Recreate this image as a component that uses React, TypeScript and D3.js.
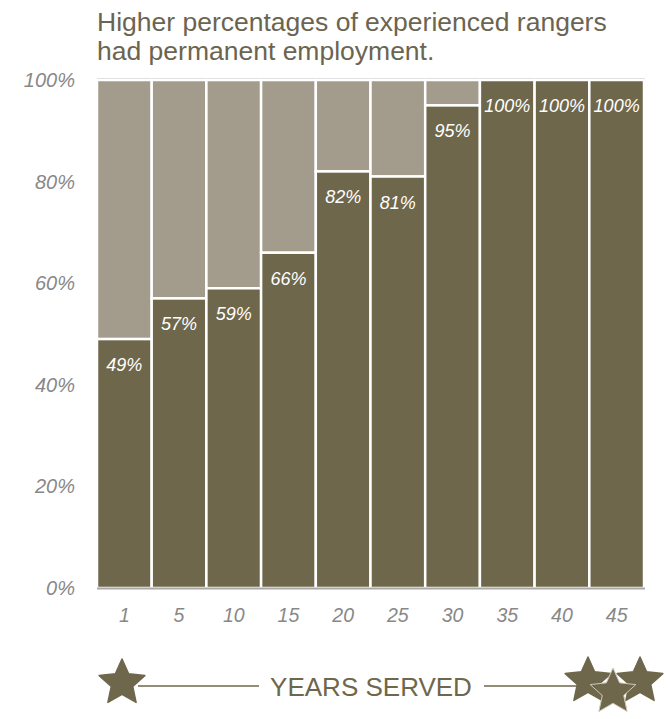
import React from "react";
import * as d3 from "d3";

const years = ["1", "5", "10", "15", "20", "25", "30", "35", "40", "45"];
const permanent = [49, 57, 59, 66, 82, 81, 95, 100, 100, 100];
const yTicks = [0, 20, 40, 60, 80, 100];
const titleLines = ["Higher percentages of experienced rangers", "had permanent employment."];
const axisTitle = "YEARS SERVED";

const W = 668;
const H = 719;
const DARK = "#6f674b";
const LIGHT = "#a39b8c";
const TICK = "#888888";
const FONT = "'Liberation Sans', Arial, sans-serif";

function starPath(cx: number, cy: number, R: number) {
  const r = R * 0.47;
  const pts: string[] = [];
  for (let i = 0; i < 10; i++) {
    const a = -Math.PI / 2 + (i * Math.PI) / 5;
    const rad = i % 2 === 0 ? R : r;
    pts.push(`${(cx + rad * Math.cos(a)).toFixed(2)},${(cy + rad * Math.sin(a)).toFixed(2)}`);
  }
  return "M" + pts.join("L") + "Z";
}

export default function App() {
  const x = d3.scaleBand<string>().domain(years).range([97, 644]).padding(0);
  const y = d3.scaleLinear().domain([0, 100]).range([588, 80]);
  const bw = x.bandwidth();

  return (
    <svg width={W} height={H} style={{ position: "absolute", left: 0, top: 0, background: "#fff" }} fontFamily={FONT}>
      {titleLines.map((t, i) => (
        <text key={i} x={97} y={31 + i * 29} fontSize={26.5} fill="#6b6450">
          {t}
        </text>
      ))}
      {/* top gridline */}
      <line x1={97} x2={645} y1={y(100) - 1} y2={y(100) - 1} stroke="#c8c8c8" strokeWidth={1.5} />
      <line x1={97} x2={97} y1={y(100) - 1} y2={y(0)} stroke="#d0d0d0" strokeWidth={1} />
      {years.map((yr, i) => {
        const v = permanent[i];
        const x0 = x(yr)!;
        return (
          <g key={yr}>
            <rect x={x0} y={y(100)} width={bw} height={y(v) - y(100)} fill={LIGHT} stroke="#fff" strokeWidth={2.5} />
            <rect x={x0} y={y(v)} width={bw} height={y(0) - y(v)} fill={DARK} stroke="#fff" strokeWidth={2.5} />
            <text x={x0 + bw / 2} y={y(v) + 32} textAnchor="middle" fontSize={18} fontStyle="italic" fill="#fff">
              {v}%
            </text>
            <text x={x0 + bw / 2} y={622} textAnchor="middle" fontSize={19.5} fontStyle="italic" fill={TICK}>
              {yr}
            </text>
          </g>
        );
      })}
      <line x1={97} x2={645} y1={y(0) + 0.5} y2={y(0) + 0.5} stroke="#a8a8a8" strokeWidth={2} />
      {yTicks.map((t) => (
        <text key={t} x={75} y={y(t) + 7} textAnchor="end" fontSize={20} fontStyle="italic" fill={TICK}>
          {t}%
        </text>
      ))}
      {/* bottom axis title with stars */}
      <line x1={138} x2={259} y1={686} y2={686} stroke={DARK} strokeWidth={1.5} />
      <line x1={484} x2={580} y1={686} y2={686} stroke={DARK} strokeWidth={1.5} />
      <text x={371} y={696} textAnchor="middle" fontSize={26} fill={DARK}>
        {axisTitle}
      </text>
      <path d={starPath(122, 683, 24)} fill={DARK} stroke={DARK} strokeWidth={1.5} strokeLinejoin="round" />
      <path d={starPath(588, 681, 24)} fill={DARK} stroke={DARK} strokeWidth={1.5} strokeLinejoin="round" />
      <path d={starPath(640, 681, 24)} fill={DARK} stroke={DARK} strokeWidth={1.5} strokeLinejoin="round" />
      <path d={starPath(613, 692, 24)} fill={DARK} stroke="#cdc7b8" strokeWidth={1} strokeLinejoin="round" />
    </svg>
  );
}
